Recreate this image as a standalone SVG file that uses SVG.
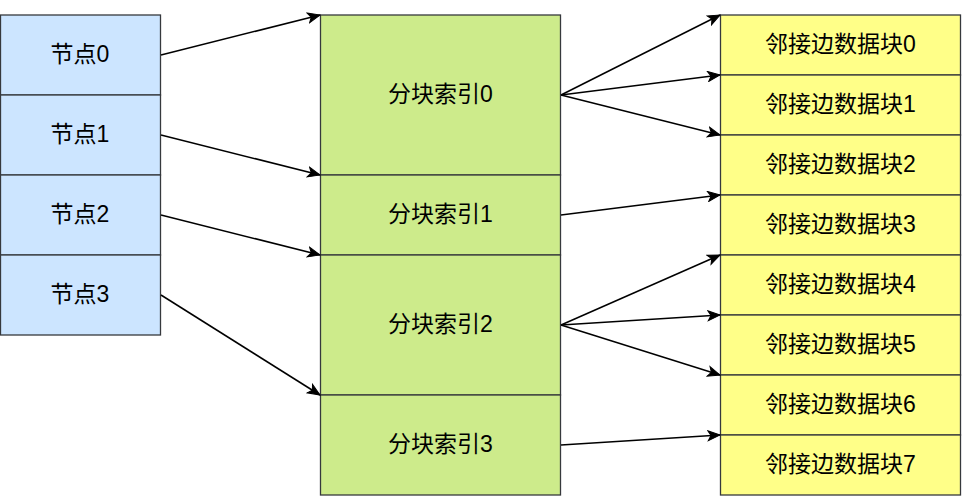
<svg xmlns="http://www.w3.org/2000/svg" width="962" height="496" viewBox="0 0 962 496">
<defs>
<style>
.n{fill:#cce5ff;stroke:#36393d;stroke-width:1.3}
.g{fill:#cdeb8b;stroke:#36393d;stroke-width:1.3}
.y{fill:#ffff88;stroke:#36393d;stroke-width:1.3}
text{font-family:"Liberation Sans","Noto Sans CJK SC",sans-serif;font-size:23px;fill:#000;text-anchor:middle;dominant-baseline:central}
.e{stroke:#000;stroke-width:1.5;fill:none;marker-end:url(#a)}
</style>
<marker id="a" markerUnits="userSpaceOnUse" markerWidth="14" markerHeight="12" refX="13" refY="5.5" orient="auto" viewBox="0 0 14 11">
<path d="M1,0.5 L13,5.5 L1,10.5 L4,5.5 Z" fill="#000" stroke="#000" stroke-width="1"/>
</marker>
</defs>
<rect width="962" height="496" fill="#fff"/>
<g id="node0"><rect class="n" x="0.5" y="15" width="160" height="80"/><text x="80" y="54">节点0</text></g>
<g id="node1"><rect class="n" x="0.5" y="95" width="160" height="80"/><text x="80" y="134">节点1</text></g>
<g id="node2"><rect class="n" x="0.5" y="175" width="160" height="80"/><text x="80" y="214">节点2</text></g>
<g id="node3"><rect class="n" x="0.5" y="255" width="160" height="80"/><text x="80" y="294">节点3</text></g>
<g id="idx0"><rect class="g" x="320.5" y="15" width="240" height="160"/><text x="440.5" y="94">分块索引0</text></g>
<g id="idx1"><rect class="g" x="320.5" y="175" width="240" height="80"/><text x="440.5" y="214">分块索引1</text></g>
<g id="idx2"><rect class="g" x="320.5" y="255" width="240" height="140"/><text x="440.5" y="324">分块索引2</text></g>
<g id="idx3"><rect class="g" x="320.5" y="395" width="240" height="100"/><text x="440.5" y="444">分块索引3</text></g>
<g id="blk0"><rect class="y" x="720.5" y="15" width="240" height="60"/><text x="840.5" y="44">邻接边数据块0</text></g>
<g id="blk1"><rect class="y" x="720.5" y="75" width="240" height="60"/><text x="840.5" y="104">邻接边数据块1</text></g>
<g id="blk2"><rect class="y" x="720.5" y="135" width="240" height="60"/><text x="840.5" y="164">邻接边数据块2</text></g>
<g id="blk3"><rect class="y" x="720.5" y="195" width="240" height="60"/><text x="840.5" y="224">邻接边数据块3</text></g>
<g id="blk4"><rect class="y" x="720.5" y="255" width="240" height="60"/><text x="840.5" y="284">邻接边数据块4</text></g>
<g id="blk5"><rect class="y" x="720.5" y="315" width="240" height="60"/><text x="840.5" y="344">邻接边数据块5</text></g>
<g id="blk6"><rect class="y" x="720.5" y="375" width="240" height="60"/><text x="840.5" y="404">邻接边数据块6</text></g>
<g id="blk7"><rect class="y" x="720.5" y="435" width="240" height="60"/><text x="840.5" y="464">邻接边数据块7</text></g>
<g id="edges">
<line class="e" x1="161" y1="55" x2="320" y2="15"/>
<line class="e" x1="161" y1="135" x2="320" y2="175"/>
<line class="e" x1="161" y1="215" x2="320" y2="255"/>
<line class="e" x1="161" y1="295" x2="320" y2="395"/>
<line class="e" x1="561" y1="95" x2="720" y2="15"/>
<line class="e" x1="561" y1="95" x2="720" y2="75"/>
<line class="e" x1="561" y1="95" x2="720" y2="135"/>
<line class="e" x1="561" y1="215" x2="720" y2="195"/>
<line class="e" x1="561" y1="325" x2="720" y2="255"/>
<line class="e" x1="561" y1="325" x2="720" y2="315"/>
<line class="e" x1="561" y1="325" x2="720" y2="375"/>
<line class="e" x1="561" y1="445" x2="720" y2="435"/>
</g>
</svg>
